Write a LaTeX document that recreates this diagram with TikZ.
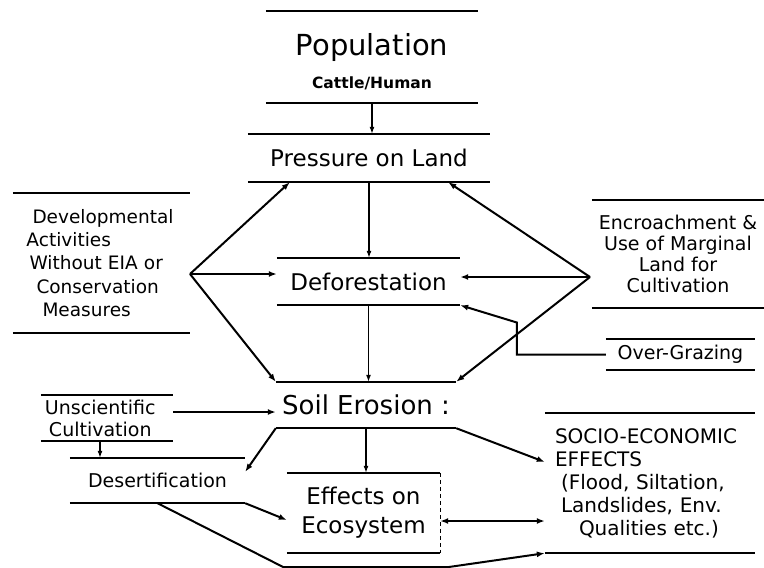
\documentclass[tikz,border=0pt]{standalone}
\usepackage{fontspec}
\setmainfont{DejaVu Sans}
\usetikzlibrary{arrows.meta}

\newcommand\popfont{\fontsize{29}{32}\selectfont}
\newcommand\catfont{\fontsize{15.5}{18}\selectfont\bfseries}
\newcommand\ctrfont{\fontsize{23}{29}\selectfont}
\newcommand\soilfont{\fontsize{26}{30}\selectfont}
\newcommand\lblfont{\fontsize{19}{23}\selectfont}

\begin{document}
\begin{tikzpicture}[x=1pt,y=-1pt,
  blk/.style={inner sep=0pt},
  bar/.style={line width=1.8pt},
  arr/.style={line width=2pt, -{Latex[length=8pt,width=6pt]}},
  tarr/.style={line width=1.2pt, -{Latex[length=7pt,width=5pt]}}]
\useasboundingbox (0,0) rectangle (764,568);

% centre column
\node[blk, align=center, minimum width=212pt, minimum height=92pt] (pop) at (372,57)
  {\popfont\rule{0pt}{32pt}Population\\[14pt]\catfont Cattle/Human};
\node[blk, font=\ctrfont, minimum width=242pt, minimum height=48pt] (press) at (369,158) {Pressure on Land};
\node[blk, font=\ctrfont, minimum width=183pt, minimum height=47pt] (defor) at (368.5,281.5) {Deforestation};
\node[blk, font=\soilfont, minimum width=180pt, minimum height=46pt] (soil) at (366,405) {Soil Erosion :};
\node[blk, font=\ctrfont, align=center, minimum width=153pt, minimum height=80pt] (eco) at (363.5,513)
  {Effects on\\Ecosystem};

% side blocks
\node[blk, font=\fontsize{18.5}{23.2}\selectfont, align=left, text width=160pt, inner xsep=8.5pt, minimum height=140pt] (dev) at (101.5,263)
  {\hspace*{11pt}Developmental\\\hspace*{5pt}Activities\\\hspace*{8pt}Without EIA or\\\hspace*{15pt}Conservation\\\hspace*{21pt}Measures};
\node[blk, font=\fontsize{19}{21}\selectfont, align=center, minimum width=172pt, minimum height=108pt] (enc) at (678,254)
  {Encroachment \&\\Use of Marginal\\Land for\\Cultivation};
\node[blk, font=\lblfont, minimum width=149pt, minimum height=31pt] (graze) at (680.5,354.5) {Over-Grazing};
\node[blk, font=\fontsize{19}{22}\selectfont, align=left, text width=124pt, inner xsep=4pt, minimum height=46pt] (unsci) at (107,418)
  {Unscientific\\\hspace*{4pt}Cultivation};
\node[blk, font=\lblfont, minimum width=175pt, minimum height=45pt] (desert) at (157.5,480.5) {Desertification};
\node[blk, font=\fontsize{20}{23}\selectfont, align=left, text width=190pt, inner xsep=10pt, minimum height=140pt] (socio) at (650,483)
  {SOCIO-ECONOMIC\\EFFECTS\\\hspace*{6pt}(Flood, Siltation,\\\hspace*{6pt}Landslides, Env.\\\hspace*{24pt}Qualities etc.)};

\foreach \n in {pop,press,defor,soil,eco,dev,enc,graze,unsci,desert,socio}
  \draw[bar] (\n.north west) -- (\n.north east) (\n.south west) -- (\n.south east);
\draw[dash pattern=on 4pt off 3pt, line width=1pt] (eco.north east) -- (eco.south east);

% down the middle
\draw[tarr] (pop.south) -- (pop.south |- press.north);
\draw[tarr] (press.south) -- (press.south |- defor.north);
\draw[tarr] (defor.south) -- (defor.south |- soil.north);
\draw[tarr] (soil.south) -- (soil.south |- eco.north);

\coordinate (devtip) at (190,274);
\coordinate (enctip) at (590,277);
\draw[arr] (devtip) -- ([xshift=42pt]press.south west);
\draw[arr] (devtip) -- (devtip -| defor.west);
\draw[arr] (devtip) -- (soil.north west);
\draw[arr] (enctip) -- ([xshift=-42pt]press.south east);
\draw[arr] (enctip) -- (enctip -| defor.east);
\draw[arr] (enctip) -- (soil.north east);
\draw[arr] (graze.west) -- ++(-89,0) -- ++(0,-32) -- (defor.south east);

% below soil erosion
\draw[arr] ([yshift=6pt]unsci.east) -- ([yshift=6pt]unsci.east -| soil.west);
\draw[tarr] ([xshift=-7pt]unsci.south) -- ([xshift=-7pt]unsci.south |- desert.north);
\draw[arr] (soil.south west) -- ([yshift=-14pt]desert.north east);
\draw[arr] (soil.south east) -- ([yshift=21pt]socio.west);
\draw[arr] (desert.south east) -- ([yshift=-7pt]eco.west);
\draw[arr] (desert.south) -- ++(126,64) -- ++(164,0) -- (socio.south west);
\draw[arr, {Latex[length=8pt,width=6pt]}-{Latex[length=8pt,width=6pt]}] ([yshift=-8pt]eco.east) -- ([yshift=-8pt]eco.east -| socio.west);
\end{tikzpicture}
\end{document}
